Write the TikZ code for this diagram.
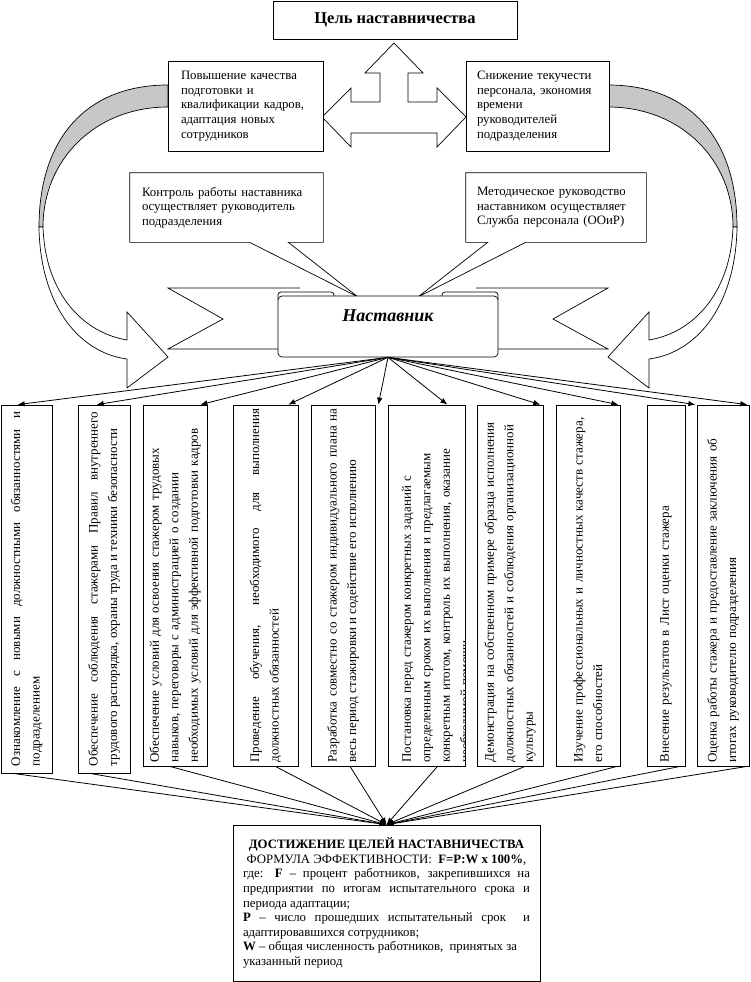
\documentclass[tikz,border=0pt]{standalone}
\usepackage{fontspec}
\setmainfont{Liberation Serif}
\usepackage{tikz}
\usetikzlibrary{arrows.meta}

\begin{document}
\begin{tikzpicture}[x=1pt,y=-1pt,>={Latex[length=7pt,width=5.5pt]},line width=0.7pt,
  txt/.style={font=\fontsize{12.8}{14.6}\selectfont},
  box/.style={draw,fill=white,txt},
  goal/.style={box,minimum height=90pt,inner xsep=13pt,align=left},
  callout/.style={txt,minimum height=69pt,inner xsep=12pt,align=left},
  vbox/.style={draw,fill=white,inner sep=0pt},
  vtext/.style={rotate=90,text width=354pt,inner sep=0pt,font=\fontsize{13}{19.5}\selectfont},
  link/.style={->,line width=0.8pt}]
\useasboundingbox (0,0) rectangle (750,982);
\fill[white] (0,0) rectangle (750,982);

% curved arrows left and right
\filldraw[fill=black!22] (168,85) .. controls (85,85) and (39,140) .. (39,227)
  -- (43,227) .. controls (43,160) and (95,107) .. (168,107) -- cycle;
\draw[fill=white] (39,227) .. controls (40,300) and (75,352) .. (127,359)
  -- (127,388) -- (168,357) -- (127,312) -- (127,340)
  .. controls (80,332) and (45,290) .. (43,227) -- cycle;
\filldraw[fill=black!22] (608,85) .. controls (691,85) and (737,140) .. (737,227)
  -- (733,227) .. controls (733,160) and (681,107) .. (608,107) -- cycle;
\draw[fill=white] (737,227) .. controls (736,300) and (701,352) .. (649,359)
  -- (649,388) -- (608,357) -- (649,312) -- (649,340)
  .. controls (696,332) and (731,290) .. (733,227) -- cycle;

% three-way block arrow
\draw[fill=white] (394,43) -- (423,73) -- (408,73) -- (408,102) -- (437,102)
  -- (437,88) -- (466,117) -- (437,147) -- (437,133) -- (351,133) -- (351,147)
  -- (322,117) -- (351,88) -- (351,102) -- (380,102) -- (380,73) -- (365,73) -- cycle;

\node[box,minimum width=244pt,minimum height=38pt,font=\fontsize{16.5}{18}\selectfont\bfseries] (cel) at (395,20) {Цель наставничества};
\node[goal,text width=129pt] (g1) at (245.5,106) {Повышение качества\\подготовки и\\квалификации кадров,\\адаптация новых\\сотрудников};
\node[goal,text width=121pt,inner xsep=11pt] (g2) at (537.5,106) {Снижение текучести\\персонала, экономия\\времени\\руководителей\\подразделения};

% callouts
\node[callout,text width=169pt] (c1) at (226.5,207.5) {Контроль работы наставника\\осуществляет руководитель\\подразделения};
\node[callout,text width=158pt,inner xsep=11pt] (c2) at (556,207.5) {Методическое руководство\\наставником осуществляет\\Служба персонала (ООиР)};
\coordinate (p1) at (358,297);
\coordinate (p2) at (418,297);
\draw (c1.north west) -- (c1.north east) -- (c1.south east) -- ([xshift=-35pt]c1.south east)
  -- (p1) -- ([xshift=120pt]c1.south west) -- (c1.south west) -- cycle;
\draw (c2.north west) -- (c2.north east) -- (c2.south east) -- ([xshift=60pt]c2.south west)
  -- (p2) -- ([xshift=22pt]c2.south west) -- (c2.south west) -- cycle;

% ribbon
\draw[fill=white] (300,288) -- (168,288) -- (223,319) -- (168,349) -- (300,349);
\draw[fill=white] (476,288) -- (608,288) -- (553,319) -- (608,349) -- (476,349);
\draw[fill=white,rounded corners=3pt] (278,292) rectangle (334,302);
\draw[fill=white,rounded corners=3pt] (442,292) rectangle (498,302);
\node[draw,fill=white,rounded corners=4pt,minimum width=220pt,minimum height=61pt,
  text height=25pt,text depth=36pt,inner ysep=0pt,
  font=\fontsize{18}{20}\selectfont\bfseries\itshape] (nast) at (388,326.5) {Наставник};

% tasks of the mentor
\node[vbox,minimum width=51pt,minimum height=368pt] (b1) at (26.5,589) {};
\node[vbox,minimum width=52pt,minimum height=368pt] (b2) at (104,589) {};
\node[vbox,minimum width=64pt,minimum height=361pt] (b3) at (175,585.5) {};
\node[vbox,minimum width=65pt,minimum height=361pt] (b4) at (265.5,585.5) {};
\node[vbox,minimum width=64pt,minimum height=361pt] (b5) at (343,585.5) {};
\node[vbox,minimum width=77pt,minimum height=361pt] (b6) at (426.5,585.5) {};
\node[vbox,minimum width=66pt,minimum height=361pt] (b7) at (510,585.5) {};
\node[vbox,minimum width=64pt,minimum height=361pt] (b8) at (588,585.5) {};
\node[vbox,minimum width=38pt,minimum height=361pt] (b9) at (666,585.5) {};
\node[vbox,minimum width=52pt,minimum height=361pt] (b10) at (723,585.5) {};

\node[vtext,align=justify] (t1) at (b1.center) {Ознакомление с новыми должностными обязанностями и\linebreak подразделением};
\node[vtext,align=justify] (t2) at (b2.center) {Обеспечение соблюдения стажерами Правил внутреннего\linebreak трудового распорядка, охраны труда и техники безопасности};
\node[vtext,align=left] (t3) at (b3.center) {Обеспечение условий для освоения стажером трудовых\\навыков, переговоры с администрацией о создании\\необходимых условий для эффективной подготовки кадров};
\node[vtext,align=justify] (t4) at (b4.center) {Проведение обучения, необходимого для выполнения\linebreak должностных обязанностей};
\node[vtext,align=justify] (t5) at (b5.center) {Разработка совместно со стажером индивидуального плана на\linebreak весь период стажировки и содействие его исполнению};
\begin{scope}
\clip (b6.north west) rectangle (b6.south east);
\node[vtext,align=left] (t6) at (437,585.5) {Постановка перед стажером конкретных заданий с\\определенным сроком их выполнения и предлагаемым\\конкретным итогом, контроль их выполнения, оказание\\необходимой помощи};
\end{scope}
\node[vtext,align=left] (t7) at (b7.center) {Демонстрация на собственном примере образца исполнения\\должностных обязанностей и соблюдения организационной\\культуры};
\node[vtext,align=left] (t8) at (b8.center) {Изучение профессиональных и личностных качеств стажера,\\его способностей};
\node[vtext,align=left] (t9) at (b9.center) {Внесение результатов в Лист оценки стажера};
\node[vtext,align=left] (t10) at (b10.center) {Оценка работы стажера и предоставление заключения об\\итогах руководителю подразделения};

% result
\node[box,text width=287pt,inner xsep=10pt,minimum height=156pt,align=justify] (res) at (386.5,903) {%
\makebox[\linewidth][c]{\textbf{ДОСТИЖЕНИЕ ЦЕЛЕЙ НАСТАВНИЧЕСТВА}}\\
\makebox[\linewidth][c]{ФОРМУЛА ЭФФЕКТИВНОСТИ:\ \ \textbf{F=P:W x 100\%},}\\
где: \textbf{F} – процент работников, закрепившихся на предприятии по итогам испытательного срока и периода адаптации;\\
\textbf{P} – число прошедших испытательный срок\ \ и адаптировавшихся сотрудников;\\
\textbf{W} – общая численность работников,\ \ принятых за\\указанный период};

% arrows from the mentor
\draw[link] (nast.south) -- ([xshift=17pt]b1.north west);
\draw[link] (nast.south) -- ([xshift=19pt]b2.north west);
\draw[link] (nast.south) -- ([xshift=-7pt]b3.north east);
\draw[link] (nast.south) -- ([xshift=-10pt]b4.north east);
\draw[link] (nast.south) -- ([xshift=3pt]b5.north east);
\draw[link] (nast.south) -- ([xshift=-18pt]b6.north east);
\draw[link] (nast.south) -- ([xshift=-3pt]b7.north east);
\draw[link] (nast.south) -- ([xshift=-2pt]b8.north east);
\draw[link] (nast.south) -- ([xshift=10pt]b9.north east);
\draw[link] (nast.south) -- ([xshift=-2pt]b10.north east);

% arrows to the result
\draw[link] ([xshift=12pt]b1.south west) -- (res.north);
\draw[link] ([xshift=12pt]b2.south west) -- (res.north);
\draw[link] ([xshift=27pt]b3.south west) -- (res.north);
\draw[link] ([xshift=-23pt]b4.south east) -- (res.north);
\draw[link] ([xshift=7pt]b5.south) -- (res.north);
\draw[link] ([xshift=11pt]b6.south) -- (res.north);
\draw[link] ([xshift=15pt]b7.south) -- (res.north);
\draw[link] ([xshift=-3pt]b8.south east) -- (res.north);
\draw[link] ([xshift=-5pt]b9.south east) -- (res.north);
\draw[link] ([xshift=-2pt]b10.south east) -- (res.north);
\end{tikzpicture}
\end{document}
